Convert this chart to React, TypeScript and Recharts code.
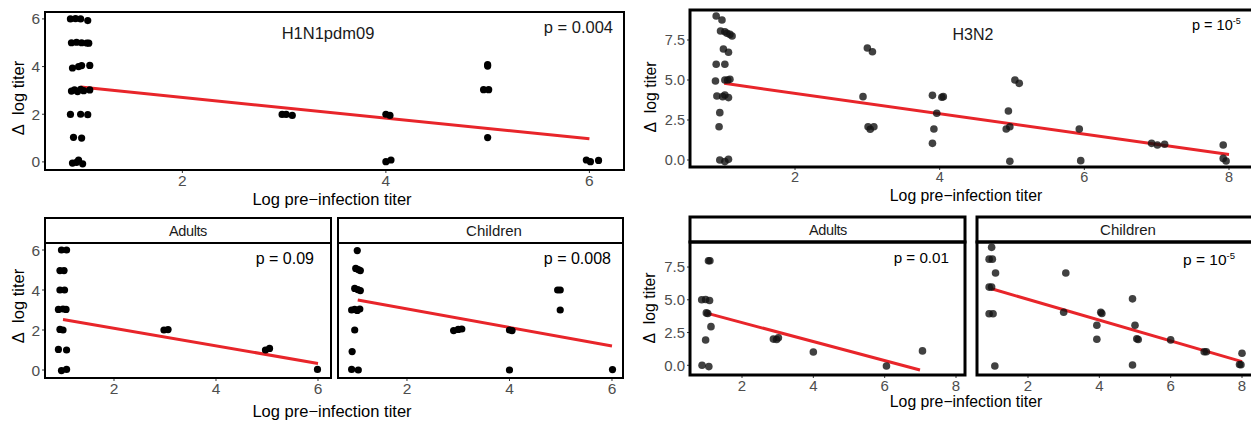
import React from 'react';
import { ScatterChart, Scatter, XAxis, YAxis, ReferenceLine } from 'recharts';

const FONT = '"Liberation Sans", Arial, Helvetica, sans-serif';

// ---------- data ----------
const h1n1XTicks = [2, 4, 6];
const h1n1YTicks = [0, 2, 4, 6];
const h3n2XTicks = [2, 4, 6, 8];
const h3n2YTicks = [0, 2.5, 5, 7.5];

const h1n1All = [
  { x: 0.90, y: 6.00 }, { x: 0.95, y: 6.01 }, { x: 1.00, y: 6.00 }, { x: 1.07, y: 5.93 },
  { x: 0.91, y: 5.00 }, { x: 0.96, y: 5.02 }, { x: 1.01, y: 5.00 }, { x: 1.06, y: 4.99 }, { x: 1.08, y: 4.98 },
  { x: 0.92, y: 3.94 }, { x: 0.98, y: 4.00 }, { x: 1.01, y: 4.04 }, { x: 1.09, y: 4.05 },
  { x: 0.91, y: 2.97 }, { x: 0.94, y: 3.02 }, { x: 0.97, y: 2.95 }, { x: 1.00, y: 3.04 }, { x: 1.03, y: 2.99 }, { x: 1.09, y: 3.02 },
  { x: 0.90, y: 1.99 }, { x: 1.00, y: 2.00 }, { x: 1.07, y: 1.98 },
  { x: 0.93, y: 1.03 }, { x: 1.01, y: 1.00 },
  { x: 0.92, y: -0.05 }, { x: 0.98, y: 0.08 }, { x: 1.02, y: -0.08 }, { x: 0.96, y: -0.02 },
  { x: 2.98, y: 1.99 }, { x: 3.02, y: 1.99 }, { x: 3.08, y: 1.95 },
  { x: 4.00, y: 2.00 }, { x: 4.04, y: 1.95 }, { x: 4.00, y: 0.01 }, { x: 4.05, y: 0.08 },
  { x: 5.00, y: 4.08 }, { x: 5.00, y: 4.02 }, { x: 4.96, y: 3.03 }, { x: 5.01, y: 3.03 }, { x: 5.00, y: 1.02 },
  { x: 5.97, y: 0.08 }, { x: 6.01, y: 0.01 }, { x: 6.09, y: 0.06 },
];
const h1n1AllFit = [{ x: 1.0, y: 3.14 }, { x: 6.0, y: 0.97 }];

const h1n1Adults = [
  { x: 0.97, y: 6.00 }, { x: 1.07, y: 6.00 },
  { x: 0.94, y: 4.97 }, { x: 1.02, y: 4.97 },
  { x: 0.94, y: 4.00 }, { x: 1.03, y: 4.00 },
  { x: 0.91, y: 3.03 }, { x: 1.00, y: 3.05 }, { x: 1.06, y: 3.03 },
  { x: 0.94, y: 2.03 }, { x: 1.00, y: 2.00 },
  { x: 0.91, y: 1.03 }, { x: 1.07, y: 1.00 },
  { x: 0.97, y: -0.03 }, { x: 1.07, y: 0.03 },
  { x: 2.98, y: 2.00 }, { x: 3.06, y: 2.02 },
  { x: 4.97, y: 1.00 }, { x: 5.05, y: 1.08 },
  { x: 5.99, y: 0.03 },
];
const h1n1AdultsFit = [{ x: 1.0, y: 2.53 }, { x: 6.0, y: 0.33 }];

const h1n1Children = [
  { x: 1.03, y: 5.97 },
  { x: 1.00, y: 5.08 }, { x: 1.05, y: 5.02 }, { x: 1.09, y: 4.97 },
  { x: 0.98, y: 4.08 }, { x: 1.04, y: 4.02 }, { x: 1.09, y: 3.97 },
  { x: 0.92, y: 3.00 }, { x: 0.98, y: 3.03 }, { x: 1.03, y: 2.98 }, { x: 1.08, y: 3.05 },
  { x: 0.98, y: 2.00 },
  { x: 0.93, y: 0.92 },
  { x: 0.92, y: 0.03 }, { x: 1.05, y: 0.00 },
  { x: 2.91, y: 1.97 }, { x: 3.00, y: 2.03 }, { x: 3.07, y: 2.05 },
  { x: 4.00, y: 2.00 }, { x: 4.05, y: 1.97 }, { x: 4.00, y: 0.00 },
  { x: 4.94, y: 4.00 }, { x: 4.99, y: 4.00 }, { x: 4.99, y: 3.00 },
  { x: 6.01, y: 0.02 },
];
const h1n1ChildrenFit = [{ x: 1.04, y: 3.5 }, { x: 6.0, y: 1.2 }];

const h3n2All = [
  { x: 0.91, y: 9.00 }, { x: 0.99, y: 8.75 },
  { x: 0.97, y: 8.06 }, { x: 1.03, y: 8.02 }, { x: 1.06, y: 7.92 }, { x: 1.10, y: 7.85 }, { x: 1.13, y: 7.75 },
  { x: 1.01, y: 6.94 }, { x: 1.08, y: 6.73 },
  { x: 0.91, y: 5.98 }, { x: 1.03, y: 5.98 },
  { x: 0.90, y: 4.94 }, { x: 1.03, y: 5.00 }, { x: 1.07, y: 5.00 }, { x: 1.10, y: 5.04 },
  { x: 0.92, y: 4.00 }, { x: 1.00, y: 3.96 }, { x: 1.03, y: 4.06 }, { x: 1.08, y: 3.90 },
  { x: 0.96, y: 2.96 }, { x: 0.95, y: 2.08 },
  { x: 0.96, y: 0.00 }, { x: 1.03, y: -0.10 }, { x: 1.08, y: 0.04 },
  { x: 3.00, y: 7.00 }, { x: 3.07, y: 6.77 }, { x: 2.94, y: 3.96 },
  { x: 3.01, y: 2.08 }, { x: 3.04, y: 1.92 }, { x: 3.09, y: 2.08 },
  { x: 3.90, y: 4.04 }, { x: 4.03, y: 3.92 }, { x: 4.05, y: 3.96 }, { x: 3.96, y: 2.92 }, { x: 3.92, y: 1.94 }, { x: 3.90, y: 1.04 },
  { x: 5.04, y: 5.00 }, { x: 5.10, y: 4.79 }, { x: 4.95, y: 3.06 }, { x: 4.92, y: 1.94 }, { x: 4.97, y: 2.08 }, { x: 4.97, y: -0.08 },
  { x: 5.93, y: 1.94 }, { x: 5.95, y: -0.04 },
  { x: 6.93, y: 1.04 }, { x: 7.01, y: 0.94 }, { x: 7.11, y: 0.98 },
  { x: 7.92, y: 0.94 }, { x: 7.92, y: 0.10 }, { x: 7.96, y: -0.06 },
];
const h3n2AllFit = [{ x: 1.02, y: 4.79 }, { x: 8.0, y: 0.35 }];

const h3n2Adults = [
  { x: 0.87, y: 5.00 }, { x: 0.98, y: 5.02 }, { x: 1.09, y: 4.95 },
  { x: 1.06, y: 7.98 }, { x: 1.10, y: 7.98 },
  { x: 1.00, y: 4.00 }, { x: 1.04, y: 3.95 },
  { x: 1.13, y: 2.95 }, { x: 0.98, y: 1.93 },
  { x: 0.88, y: 0.00 }, { x: 1.07, y: -0.10 },
  { x: 2.88, y: 2.00 }, { x: 2.97, y: 1.97 }, { x: 3.02, y: 2.10 },
  { x: 4.00, y: 1.02 }, { x: 6.05, y: -0.05 }, { x: 7.06, y: 1.10 },
];
const h3n2AdultsFit = [{ x: 1.01, y: 3.98 }, { x: 6.99, y: -0.36 }];

const h3n2Children = [
  { x: 0.98, y: 9.00 }, { x: 0.91, y: 8.10 }, { x: 1.00, y: 8.10 }, { x: 1.09, y: 7.04 },
  { x: 0.91, y: 5.97 }, { x: 0.98, y: 5.97 }, { x: 0.91, y: 3.93 }, { x: 1.02, y: 3.93 },
  { x: 1.07, y: -0.05 },
  { x: 3.06, y: 7.04 }, { x: 3.00, y: 4.05 },
  { x: 4.04, y: 4.05 }, { x: 4.07, y: 3.95 }, { x: 3.93, y: 3.06 }, { x: 3.93, y: 1.99 },
  { x: 4.93, y: 5.07 }, { x: 5.00, y: 3.06 }, { x: 5.05, y: 2.03 }, { x: 5.09, y: 1.97 }, { x: 4.93, y: 0.02 },
  { x: 6.00, y: 1.94 },
  { x: 6.94, y: 1.04 }, { x: 7.00, y: 1.04 },
  { x: 8.00, y: 0.92 }, { x: 7.93, y: 0.06 }, { x: 7.97, y: 0.04 },
];
const h3n2ChildrenFit = [{ x: 0.98, y: 5.84 }, { x: 8.0, y: 0.28 }];

// ---------- components ----------
type Pt = { x: number; y: number };

type PanelProps = {
  left: number; top: number; w: number; h: number;
  yAxisW: number; xAxisH: number;
  xDomain: [number, number]; yDomain: [number, number];
  xTicks: number[]; yTicks: number[];
  yFmt?: (v: number) => string;
  points: Pt[]; fit: Pt[];
  dotFill: string; dotOpacity: number; r: number; tickFont: number;
};

const PAD = 12;

function Panel(p: PanelProps) {
  const tickStyle = { fill: '#4D4D4D', fontSize: p.tickFont, fontFamily: FONT };
  const Dot = (props: any) => (
    <circle cx={props.cx} cy={props.cy} r={p.r} fill={p.dotFill} fillOpacity={p.dotOpacity} />
  );
  return (
    <div style={{ position: 'absolute', left: p.left - p.yAxisW, top: p.top - PAD }}>
      <ScatterChart width={p.w + p.yAxisW + PAD} height={p.h + p.xAxisH + PAD}
        margin={{ top: PAD, right: PAD, bottom: 0, left: 0 }}>
        <XAxis type="number" dataKey="x" domain={p.xDomain} ticks={p.xTicks} allowDataOverflow
          axisLine={false} tickSize={3} tickMargin={2} tick={tickStyle} tickLine={{ stroke: '#333' }}
          height={p.xAxisH} interval={0} />
        <YAxis type="number" dataKey="y" domain={p.yDomain} ticks={p.yTicks} allowDataOverflow
          axisLine={false} tickSize={3} tickMargin={2} tick={tickStyle} tickLine={{ stroke: '#333' }}
          width={p.yAxisW} interval={0} tickFormatter={p.yFmt} />
        <Scatter data={p.points} isAnimationActive={false} shape={Dot} />
        <ReferenceLine segment={[p.fit[0], p.fit[1]]} stroke="#E8252A" strokeWidth={3} ifOverflow="visible" />
      </ScatterChart>
    </div>
  );
}

const fmt1 = (v: number) => v.toFixed(1);

export default function App() {
  const yTitle = 'Δ\u00A0 log titer';
  const xTitle = 'Log pre\u2212infection titer';
  return (
    <div style={{ position: 'absolute', left: 0, top: 0, width: 1251, height: 422, background: '#fff', overflow: 'hidden', fontFamily: FONT }}>
      <Panel left={45} top={12} w={579} h={158} yAxisW={45} xAxisH={30}
        xDomain={[0.65, 6.34]} yDomain={[-0.34, 6.29]} xTicks={h1n1XTicks} yTicks={h1n1YTicks}
        points={h1n1All} fit={h1n1AllFit} dotFill="#000" dotOpacity={1} r={3.6} tickFont={15.5} />
      <Panel left={690} top={10} w={562} h={157} yAxisW={45} xAxisH={30}
        xDomain={[0.548, 8.318]} yDomain={[-0.4375, 9.375]} xTicks={h3n2XTicks} yTicks={h3n2YTicks} yFmt={fmt1}
        points={h3n2All} fit={h3n2AllFit} dotFill="#111" dotOpacity={0.8} r={3.8} tickFont={14.5} />
      <Panel left={45} top={243} w={286} h={135} yAxisW={45} xAxisH={30}
        xDomain={[0.647, 6.255]} yDomain={[-0.4, 6.35]} xTicks={h1n1XTicks} yTicks={h1n1YTicks}
        points={h1n1Adults} fit={h1n1AdultsFit} dotFill="#000" dotOpacity={1} r={3.6} tickFont={15.5} />
      <Panel left={338} top={243} w={285} h={135} yAxisW={45} xAxisH={30}
        xDomain={[0.654, 6.215]} yDomain={[-0.4, 6.35]} xTicks={h1n1XTicks} yTicks={[]}
        points={h1n1Children} fit={h1n1ChildrenFit} dotFill="#000" dotOpacity={1} r={3.6} tickFont={15.5} />
      <Panel left={690} top={242} w={275} h={133} yAxisW={45} xAxisH={30}
        xDomain={[0.542, 8.252]} yDomain={[-0.74, 9.41]} xTicks={h3n2XTicks} yTicks={h3n2YTicks} yFmt={fmt1}
        points={h3n2Adults} fit={h3n2AdultsFit} dotFill="#111" dotOpacity={0.8} r={3.8} tickFont={15} />
      <Panel left={977} top={242} w={275} h={133} yAxisW={45} xAxisH={30}
        xDomain={[0.57, 8.28]} yDomain={[-0.74, 9.41]} xTicks={h3n2XTicks} yTicks={[]}
        points={h3n2Children} fit={h3n2ChildrenFit} dotFill="#111" dotOpacity={0.8} r={3.8} tickFont={15} />

      <svg width={1251} height={422} style={{ position: 'absolute', left: 0, top: 0, pointerEvents: 'none' }}
        fontFamily={FONT}>
        {/* borders */}
        <rect x={45} y={12} width={579} height={158} fill="none" stroke="#000" strokeWidth={2} />
        <rect x={690} y={10} width={565} height={157} fill="none" stroke="#000" strokeWidth={3} />
        <rect x={45} y={218} width={286} height={25} fill="#fff" stroke="#000" strokeWidth={2} />
        <rect x={45} y={243} width={286} height={135} fill="none" stroke="#000" strokeWidth={2} />
        <rect x={338} y={218} width={285} height={25} fill="#fff" stroke="#000" strokeWidth={2} />
        <rect x={338} y={243} width={285} height={135} fill="none" stroke="#000" strokeWidth={2} />
        <rect x={690} y={217} width={275} height={25} fill="#fff" stroke="#000" strokeWidth={3} />
        <rect x={690} y={242} width={275} height={133} fill="none" stroke="#000" strokeWidth={3} />
        <rect x={977} y={217} width={280} height={25} fill="#fff" stroke="#000" strokeWidth={3} />
        <rect x={977} y={242} width={280} height={133} fill="none" stroke="#000" strokeWidth={3} />

        {/* strip labels */}
        <text x={188} y={236} fontSize={14.5} textAnchor="middle" fill="#1A1A1A" letterSpacing={-0.4}>Adults</text>
        <text x={494} y={236} fontSize={15} textAnchor="middle" fill="#1A1A1A">Children</text>
        <text x={828} y={235} fontSize={14.5} textAnchor="middle" fill="#1A1A1A" letterSpacing={-0.4}>Adults</text>
        <text x={1128} y={235} fontSize={15} textAnchor="middle" fill="#1A1A1A">Children</text>

        {/* panel annotations */}
        <text x={328} y={38.5} fontSize={16.5} textAnchor="middle" fill="#1A1A1A">H1N1pdm09</text>
        <text x={613} y={32.5} fontSize={16.5} textAnchor="end" fill="#1A1A1A">p = 0.004</text>
        <text x={973} y={39.5} fontSize={16} textAnchor="middle" fill="#1A1A1A">H3N2</text>
        <text x={1192} y={29.5} fontSize={14.5} fill="#000">p = 10<tspan dy={-6} fontSize={9}>-5</tspan></text>
        <text x={314} y={264} fontSize={16} textAnchor="end" fill="#000">p = 0.09</text>
        <text x={611} y={264} fontSize={16} textAnchor="end" fill="#000">p = 0.008</text>
        <text x={949} y={262.7} fontSize={15.2} textAnchor="end" fill="#000">p = 0.01</text>
        <text x={1183} y={265} fontSize={15.5} fill="#000">p = 10<tspan dy={-6} fontSize={9.5}>-5</tspan></text>

        {/* axis titles */}
        <text x={332} y={204.5} fontSize={16.5} textAnchor="middle" fill="#000">{xTitle}</text>
        <text x={966} y={200.5} fontSize={15.8} textAnchor="middle" fill="#000">{xTitle}</text>
        <text x={332} y={417} fontSize={16.5} textAnchor="middle" fill="#000">{xTitle}</text>
        <text x={966} y={407.3} fontSize={15.8} textAnchor="middle" fill="#000">{xTitle}</text>

        <text transform="translate(23.5,98) rotate(-90)" fontSize={16.5} textAnchor="middle" fill="#000">{yTitle}</text>
        <text transform="translate(656,97) rotate(-90)" fontSize={15.8} textAnchor="middle" fill="#000">{yTitle}</text>
        <text transform="translate(23.5,306) rotate(-90)" fontSize={16.5} textAnchor="middle" fill="#000">{yTitle}</text>
        <text transform="translate(655,308) rotate(-90)" fontSize={15.8} textAnchor="middle" fill="#000">{yTitle}</text>
      </svg>
    </div>
  );
}
